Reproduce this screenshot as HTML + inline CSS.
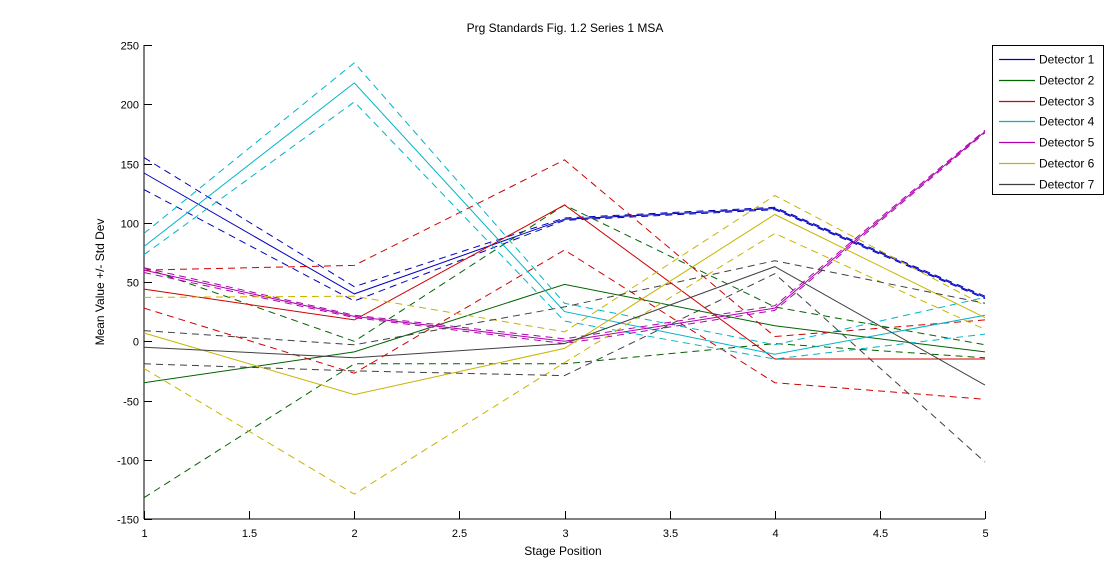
<!DOCTYPE html>
<html><head><meta charset="utf-8"><style>
html,body{margin:0;padding:0;background:#fff;}
svg{display:block;font-family:"Liberation Sans",sans-serif;}
</style></head><body>
<svg id="chart" width="1108" height="583">
<text x="565" y="32" font-size="12" text-anchor="middle">Prg Standards Fig. 1.2 Series 1 MSA</text>
<text x="563" y="555" font-size="12" text-anchor="middle">Stage Position</text>
<text x="0" y="0" font-size="12" text-anchor="middle" transform="translate(104,282) rotate(-90)">Mean Value +/- Std Dev</text>
<g id="axes"></g>
<g id="series"></g>
<g id="legend"></g>
</svg>
<script>
const xs = [1,2,3,4,5];
const names = ["Detector 1","Detector 2","Detector 3","Detector 4","Detector 5","Detector 6","Detector 7"];
const colors = ["#0000c0","#006400","#d00000","#00b4c8","#b000b0","#c8b400","#404040"];
const meanVals = [
 [142,40,103,112,37],
 [-35,-9,48,13,-9],
 [44,18,115,-15,-15],
 [80,218,25,-11,22],
 [60,21,0,28,177],
 [7,-45,-6,107,20],
 [-5,-14,-2,63,-37]
];
const upperVals = [
 [155,46,104,113,38],
 [62,0,115,29,-3],
 [60,64,153,4,18],
 [91,235,32,-3,37],
 [62,22,2,30,178],
 [37,38,8,123,30],
 [9,-3,29,68,32]
];
const lowerVals = [
 [128,34,102,111,36],
 [-132,-19,-19,-2,-14],
 [28,-27,77,-35,-49],
 [73,202,17,-15,6],
 [58,20,-2,26,176],
 [-23,-129,-18,91,10],
 [-19,-25,-29,57,-102]
];
const xTicks = [1,1.5,2,2.5,3,3.5,4,4.5,5];
const yTicks = [-150,-100,-50,0,50,100,150,200,250];

const X0=144,X1=985,Y0=519,Y1=45;
const xScale = v => X0 + (v-1)/(5-1)*(X1-X0);
const yScale = v => Y0 - (v+150)/400*(Y0-Y1);
const NS="http://www.w3.org/2000/svg";
function mk(tag, attrs, parent){const e=document.createElementNS(NS,tag);for(const k in attrs)e.setAttribute(k,attrs[k]);parent.appendChild(e);return e;}

const axes=document.getElementById('axes');
const la=mk('line',{x1:X0,y1:Y1,x2:X0,y2:Y0,stroke:'#000'},axes);


const ba=mk('line',{x1:X0,y1:Y0,x2:X1,y2:Y0,stroke:'#000'},axes);


xTicks.forEach(t=>{
  const x=Math.round(xScale(t))+0.5;
  const tk=mk('line',{x1:x,y1:Y0,x2:x,y2:Y0-8,stroke:'#000'},axes);
  
  
  const tx=mk('text',{x:x,y:Y0+18,'font-size':11,'text-anchor':'middle'},axes);
  tx.textContent=String(t);
  
  
});
yTicks.forEach(t=>{
  const y=Math.round(yScale(t))+0.5;
  const tk=mk('line',{x1:X0,y1:y,x2:X0+8,y2:y,stroke:'#000'},axes);
  
  
  const tx=mk('text',{x:X0-5,y:y+4,'font-size':11,'text-anchor':'end'},axes);
  tx.textContent=String(t);
  
  
});

const sg=document.getElementById('series');
function pts(arr){return arr.map((v,i)=>xScale(xs[i]).toFixed(1)+','+yScale(v).toFixed(1)).join(' ');}
names.forEach((n,i)=>{
  const m=mk('polyline',{points:pts(meanVals[i]),fill:'none',stroke:colors[i],'stroke-width':1},sg);
  
  
  const u=mk('polyline',{points:pts(upperVals[i]),fill:'none',stroke:colors[i],'stroke-width':1,'stroke-dasharray':'7,5'},sg);
  
  
  const l=mk('polyline',{points:pts(lowerVals[i]),fill:'none',stroke:colors[i],'stroke-width':1,'stroke-dasharray':'7,5'},sg);
  
  
});

const lg=document.getElementById('legend');
const box=mk('rect',{x:992.5,y:45.5,width:111,height:149,fill:'#fff',stroke:'#000'},lg);


names.forEach((n,i)=>{
  const y=Math.round(59+i*20.8)+0.5;
  const ln=mk('line',{x1:999,y1:y,x2:1035,y2:y,stroke:colors[i],'stroke-width':1.2},lg);
  
  
  const t=mk('text',{x:1039,y:y+4,'font-size':12},lg);
  t.textContent=n;
  
  
});
</script>
</body></html>
